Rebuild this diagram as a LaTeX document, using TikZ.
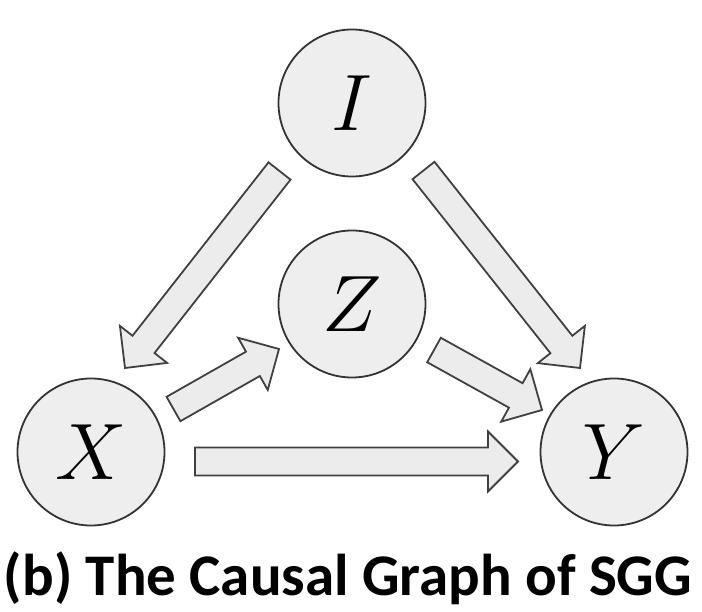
\documentclass[tikz,border=0pt]{standalone}
\usepackage{fix-cm}
\usepackage{fontspec}
\newfontfamily\capfont{Carlito}
\usetikzlibrary{calc}
\definecolor{nodefill}{HTML}{EEEEEE}
\definecolor{nodeline}{HTML}{333333}
\definecolor{arrfill}{HTML}{ECECEC}
\definecolor{arrline}{HTML}{404040}
\tikzset{
  var/.style={circle, draw=nodeline, fill=nodefill, line width=1.8pt, minimum size=147pt, inner sep=0pt, font=\fontsize{80}{80}\selectfont},
  blockarr/.style={draw=arrline, fill=arrfill, line width=1.8pt, line join=miter},
}
\newcommand\blockarrow[2]{%
  \coordinate (hb) at ($(#2)!30pt!(#1)$);
  \draw[blockarr]
    ($(#1)!14pt!90:(#2)$) -- ($(hb)!14pt!90:(#2)$) -- ($(hb)!30pt!90:(#2)$) -- (#2)
    -- ($(hb)!30pt!-90:(#2)$) -- ($(hb)!14pt!-90:(#2)$) -- ($(#1)!14pt!-90:(#2)$) -- cycle;
}
\begin{document}
\begin{tikzpicture}[x=1pt,y=-1pt]
  \useasboundingbox (0,0) rectangle (702,612);
  \node[var] (I) at (352,103) {$I$};
  \node[var] (Z) at (352,304) {$Z$};
  \node[var] (X) at (91,452) {$X$};
  \node[var] (Y) at (614,452) {$Y$};
  % arrow end points
  \coordinate (ixt) at (279.5,171);  \coordinate (ixh) at (125,368);
  \coordinate (iyt) at (423.5,170.5);\coordinate (iyh) at (580,368);
  \coordinate (xzt) at (173.5,409);  \coordinate (xzh) at (279,349);
  \coordinate (zyt) at (434,350);    \coordinate (zyh) at (542,410);
  \coordinate (xyt) at (195,461.5);  \coordinate (xyh) at (518,461.5);
  \blockarrow{ixt}{ixh}
  \blockarrow{iyt}{iyh}
  \blockarrow{xzt}{xzh}
  \blockarrow{zyt}{zyh}
  \blockarrow{xyt}{xyh}
  \node[font=\capfont\bfseries\fontsize{59}{59}\selectfont, anchor=base, inner sep=0pt] (cap) at (348,595) {(b) The Causal Graph of SGG};
\end{tikzpicture}
\end{document}
